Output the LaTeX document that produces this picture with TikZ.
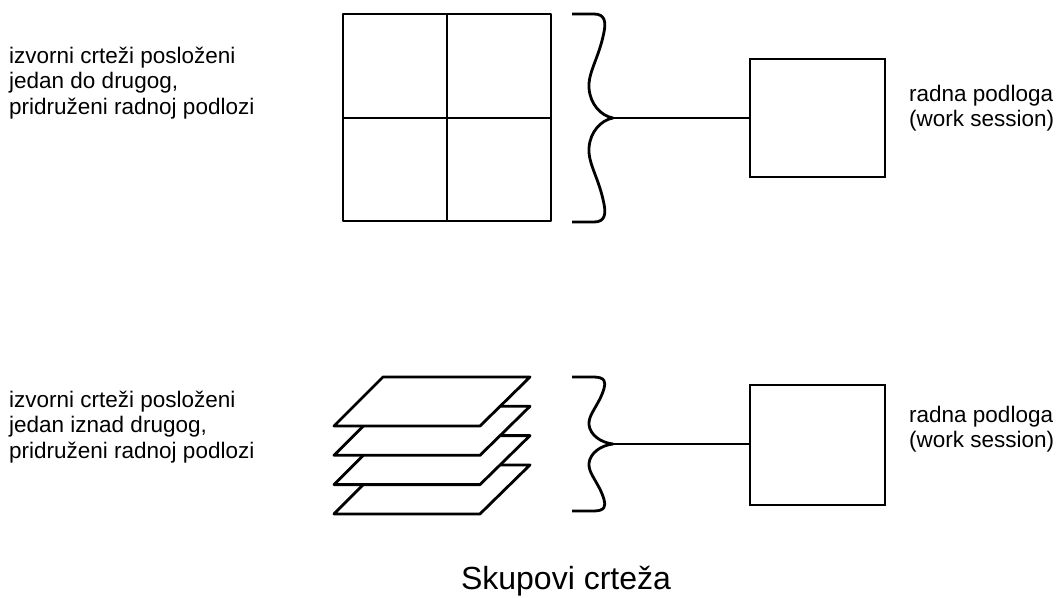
\documentclass[tikz,border=0pt]{standalone}
\usepackage{fontspec}
\setmainfont{Liberation Sans}
\newcommand\mybrace{%
  \draw[stroke] (-41,-104) -- (-19,-104) .. controls (-8,-104) and (-7,-96) .. (-9,-86)
    .. controls (-14,-60) and (-25,-46) .. (-24,-30)
    .. controls (-23,-14) and (-12,-2) .. (0,0)
    .. controls (-12,2) and (-23,14) .. (-24,30)
    .. controls (-25,46) and (-14,60) .. (-9,86)
    .. controls (-7,96) and (-8,104) .. (-19,104) -- (-41,104);}
\tikzset{
  stroke/.style={line width=2.8pt, line join=round},
  wsbox/.style={draw, line width=2.8pt, minimum width=135pt, inner sep=0pt},
  lbl/.style={align=left, inner sep=0pt, anchor=west, font=\fontsize{22.5}{25.5}\selectfont},
  conn/.style={line width=2.8pt},
}
\begin{document}
\begin{tikzpicture}[x=1pt,y=-1pt]
\useasboundingbox (0,0) rectangle (1060,597);
% top: grid
\draw[stroke] (343,14) rectangle (551,221);
\draw[stroke] (447,14) -- (447,221);
\draw[stroke] (343,118) -- (551,118);
\begin{scope}[shift={(613,118)}]
  \mybrace
\end{scope}
\coordinate (b1) at (613,118);
\node[wsbox, minimum height=118pt] (ws1) at (817.5,118) {};
\draw[conn] (b1) -- (b1 -| ws1.west);
\node[lbl] (t1) at (9,83) {izvorni crteži posloženi\\jedan do drugog,\\pridruženi radnoj podlozi};
\node[lbl] (r1) at (909,108) {radna podloga\\(work session)};
% bottom: stacked planes
\foreach \k in {3,2,1,0}{
  \draw[stroke, fill=white] (334,{426+29.3*\k}) -- (480,{426+29.3*\k}) -- (530,{377+29.3*\k}) -- (383,{377+29.3*\k}) -- cycle;
}
\begin{scope}[shift={(613,444)}, yscale=0.644]
  \mybrace
\end{scope}
\coordinate (b2) at (613,444);
\node[wsbox, minimum height=120pt] (ws2) at (817.5,445) {};
\draw[conn] (b2) -- (b2 -| ws2.west);
\node[lbl] (t2) at (9,427) {izvorni crteži posloženi\\jedan iznad drugog,\\pridruženi radnoj podlozi};
\node[lbl] (r2) at (909,429) {radna podloga\\(work session)};
\node[inner sep=0pt, font=\fontsize{32}{36}\selectfont] (title) at (566,581) {Skupovi crteža};
\end{tikzpicture}
\end{document}
